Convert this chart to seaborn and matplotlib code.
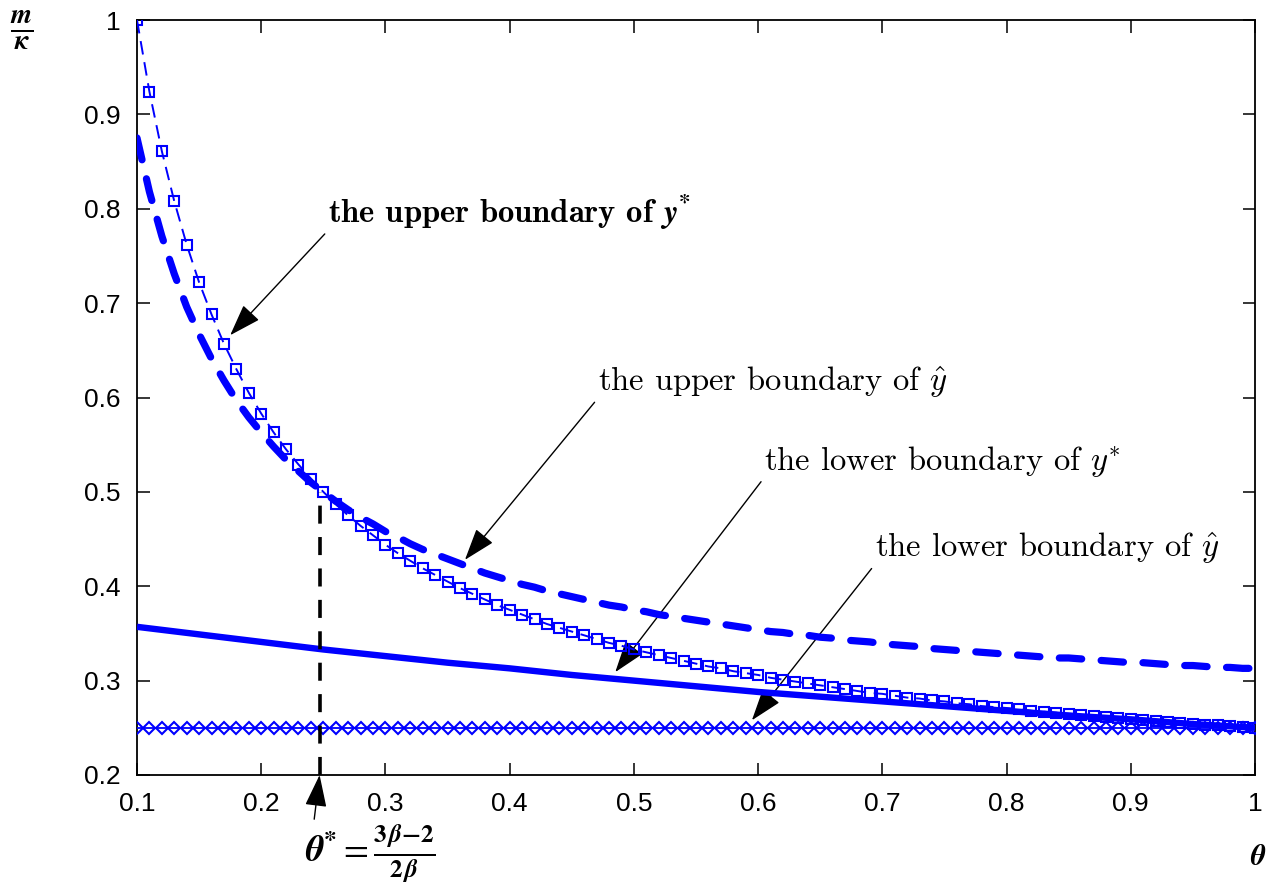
import matplotlib
matplotlib.use("Agg")
import matplotlib.pyplot as plt
import seaborn as sns

# ---------------- data ----------------
theta = [0.10, 0.11, 0.12, 0.13, 0.14, 0.15, 0.16, 0.17, 0.18, 0.19,
         0.20, 0.21, 0.22, 0.23, 0.24, 0.25, 0.26, 0.27, 0.28, 0.29,
         0.30, 0.31, 0.32, 0.33, 0.34, 0.35, 0.36, 0.37, 0.38, 0.39,
         0.40, 0.41, 0.42, 0.43, 0.44, 0.45, 0.46, 0.47, 0.48, 0.49,
         0.50, 0.51, 0.52, 0.53, 0.54, 0.55, 0.56, 0.57, 0.58, 0.59,
         0.60, 0.61, 0.62, 0.63, 0.64, 0.65, 0.66, 0.67, 0.68, 0.69,
         0.70, 0.71, 0.72, 0.73, 0.74, 0.75, 0.76, 0.77, 0.78, 0.79,
         0.80, 0.81, 0.82, 0.83, 0.84, 0.85, 0.86, 0.87, 0.88, 0.89,
         0.90, 0.91, 0.92, 0.93, 0.94, 0.95, 0.96, 0.97, 0.98, 0.99, 1.00]

upper_ystar = [1.000, 0.924, 0.861, 0.808, 0.762, 0.722, 0.688, 0.657, 0.630, 0.605,
               0.583, 0.563, 0.545, 0.529, 0.514, 0.500, 0.487, 0.475, 0.464, 0.454,
               0.444, 0.435, 0.427, 0.419, 0.412, 0.405, 0.398, 0.392, 0.386, 0.380,
               0.375, 0.370, 0.365, 0.360, 0.356, 0.352, 0.348, 0.344, 0.340, 0.337,
               0.333, 0.330, 0.327, 0.324, 0.321, 0.318, 0.315, 0.313, 0.310, 0.308,
               0.306, 0.303, 0.301, 0.299, 0.297, 0.295, 0.293, 0.291, 0.289, 0.287,
               0.286, 0.284, 0.282, 0.281, 0.279, 0.278, 0.276, 0.275, 0.273, 0.272,
               0.271, 0.270, 0.268, 0.267, 0.266, 0.265, 0.264, 0.262, 0.261, 0.260,
               0.259, 0.258, 0.257, 0.256, 0.255, 0.254, 0.253, 0.253, 0.252, 0.251, 0.250]

upper_yhat = [0.875, 0.818, 0.771, 0.731, 0.696, 0.667, 0.641, 0.618, 0.597, 0.579,
              0.563, 0.548, 0.534, 0.522, 0.510, 0.500, 0.490, 0.481, 0.473, 0.466,
              0.458, 0.452, 0.445, 0.439, 0.434, 0.429, 0.424, 0.419, 0.414, 0.410,
              0.406, 0.402, 0.399, 0.395, 0.392, 0.389, 0.386, 0.383, 0.380, 0.378,
              0.375, 0.373, 0.370, 0.368, 0.366, 0.364, 0.362, 0.360, 0.358, 0.356,
              0.354, 0.352, 0.351, 0.349, 0.348, 0.346, 0.345, 0.343, 0.342, 0.341,
              0.339, 0.338, 0.337, 0.336, 0.334, 0.333, 0.332, 0.331, 0.330, 0.329,
              0.328, 0.327, 0.326, 0.325, 0.324, 0.324, 0.323, 0.322, 0.321, 0.320,
              0.319, 0.319, 0.318, 0.317, 0.316, 0.316, 0.315, 0.314, 0.314, 0.313, 0.313]

theta_coarse = [0.10, 0.15, 0.20, 0.25, 0.30, 0.35, 0.40, 0.45, 0.50, 0.55,
                0.60, 0.65, 0.70, 0.75, 0.80, 0.85, 0.90, 0.95, 1.00]
lower_ystar = [0.357, 0.349, 0.341, 0.333, 0.326, 0.319, 0.313, 0.306, 0.300, 0.294,
               0.288, 0.283, 0.278, 0.273, 0.268, 0.263, 0.259, 0.254, 0.250]

lower_yhat = [0.25] * len(theta)

theta_star = 0.247
theta_star_y = [0.2, 0.5]

x_ticks = [0.1, 0.2, 0.3, 0.4, 0.5, 0.6, 0.7, 0.8, 0.9, 1.0]
x_tick_labels = ["0.1", "0.2", "0.3", "0.4", "0.5", "0.6", "0.7", "0.8", "0.9", "1"]
y_ticks = [0.2, 0.3, 0.4, 0.5, 0.6, 0.7, 0.8, 0.9, 1.0]
y_tick_labels = ["0.2", "0.3", "0.4", "0.5", "0.6", "0.7", "0.8", "0.9", "1"]

# ---------------- style ----------------
sns.set_style("ticks")
plt.rcParams['font.family'] = ['Liberation Sans', 'DejaVu Sans']
plt.rcParams['mathtext.fontset'] = 'cm'
plt.rcParams['text.color'] = 'black'

BLUE = (0, 0, 1)

fig = plt.figure(figsize=(12.68, 8.85), dpi=100)
ax = fig.add_axes([137 / 1268, 110 / 885, 1118 / 1268, 755 / 885])

# lower boundary of y-hat (diamonds)
sns.lineplot(x=theta, y=lower_yhat, ax=ax, color=BLUE, lw=1.3,
             marker='D', markersize=6.4, markerfacecolor='none',
             markeredgecolor=BLUE, markeredgewidth=1.5, zorder=3)
# lower boundary of y* (thick solid)
sns.lineplot(x=theta_coarse, y=lower_ystar, ax=ax, color=BLUE, lw=4.6,
             solid_capstyle='butt', zorder=4)
# upper boundary of y-hat (thick dashed)
sns.lineplot(x=theta, y=upper_yhat, ax=ax, color=BLUE, lw=5.2,
             linestyle=(0, (3.1, 2.7)), dash_capstyle='round', zorder=4)
# upper boundary of y* (thin dashed with squares)
sns.lineplot(x=theta, y=upper_ystar, ax=ax, color=BLUE, lw=1.4,
             linestyle=(0, (7, 4)), marker='s', markersize=7.8,
             markerfacecolor='none', markeredgecolor=BLUE,
             markeredgewidth=1.5, zorder=5)
# theta* vertical dashed line
ax.plot([theta_star, theta_star], theta_star_y, color='black', lw=2.6,
        linestyle=(0, (5, 3.7)), zorder=6, clip_on=False)

ax.set_xlim(0.1, 1.0)
ax.set_ylim(0.2, 1.0)
ax.set_xticks(x_ticks)
ax.set_xticklabels(x_tick_labels)
ax.set_yticks(y_ticks)
ax.set_yticklabels(y_tick_labels)
ax.tick_params(direction='in', top=True, right=True, length=9, width=1.1,
               labelsize=19, pad=12, colors='black')
for s in ax.spines.values():
    s.set_visible(True)
    s.set_linewidth(1.3)
    s.set_color('black')
ax.set_xlabel("")
ax.set_ylabel("")

arrow = dict(arrowstyle='-|>,head_length=1.0,head_width=0.34', color='black',
             lw=1.0, shrinkA=0, shrinkB=0, relpos=(0, 0.05), mutation_scale=20)

ax.annotate(r"the upper boundary of $\mathbfit{y}^{\mathbf{*}}$", xy=(0.175, 0.666),
            xytext=(0.2538, 0.796), fontsize=23.5, family='cmb10', color='black',
            math_fontfamily='stix', ha='left', va='center',
            arrowprops=arrow)
ax.annotate(r"the upper boundary of $\hat{y}$", xy=(0.364, 0.428),
            xytext=(0.471, 0.616), fontsize=23.5, family='cmr10', color='black',
            math_fontfamily='cm', ha='left', va='center',
            arrowprops=arrow)
ax.annotate(r"the lower boundary of $y^{*}$", xy=(0.485, 0.309),
            xytext=(0.605, 0.532), fontsize=23.5, family='cmr10', color='black',
            math_fontfamily='cm', ha='left', va='center',
            arrowprops=arrow)
ax.annotate(r"the lower boundary of $\hat{y}$", xy=(0.595, 0.258),
            xytext=(0.694, 0.440), fontsize=23.5, family='cmr10', color='black',
            math_fontfamily='cm', ha='left', va='center',
            arrowprops=arrow)

arrow2 = dict(arrowstyle='-|>,head_length=1.0,head_width=0.34', color='black',
              lw=1.0, shrinkA=0, shrinkB=0, relpos=(0.07, 1.0), mutation_scale=20)
ax.annotate(r"$\mathbfit{\theta}^{\mathbf{*}}=\frac{\mathbf{3}\,\mathbfit{\beta}\mathbf{-2}}{\mathbf{2}\,\mathbfit{\beta}}$",
            xy=(theta_star, 0.2), xytext=(0.235, 0.117), fontsize=26, color='black',
            math_fontfamily='stix', ha='left', va='center',
            arrowprops=arrow2, annotation_clip=False)

fig.text(22 / 1268, 1 - 30 / 885, r"$\frac{\mathbfit{m}}{\mathbfit{\kappa}}$",
         fontsize=28, math_fontfamily='stix', ha='center', va='center', color='black')
fig.text(1258 / 1268, 1 - 857 / 885, r"$\mathbfit{\theta}$",
         fontsize=21, math_fontfamily='stix', ha='center', va='center', color='black')

fig.savefig("out.png", dpi=100)
